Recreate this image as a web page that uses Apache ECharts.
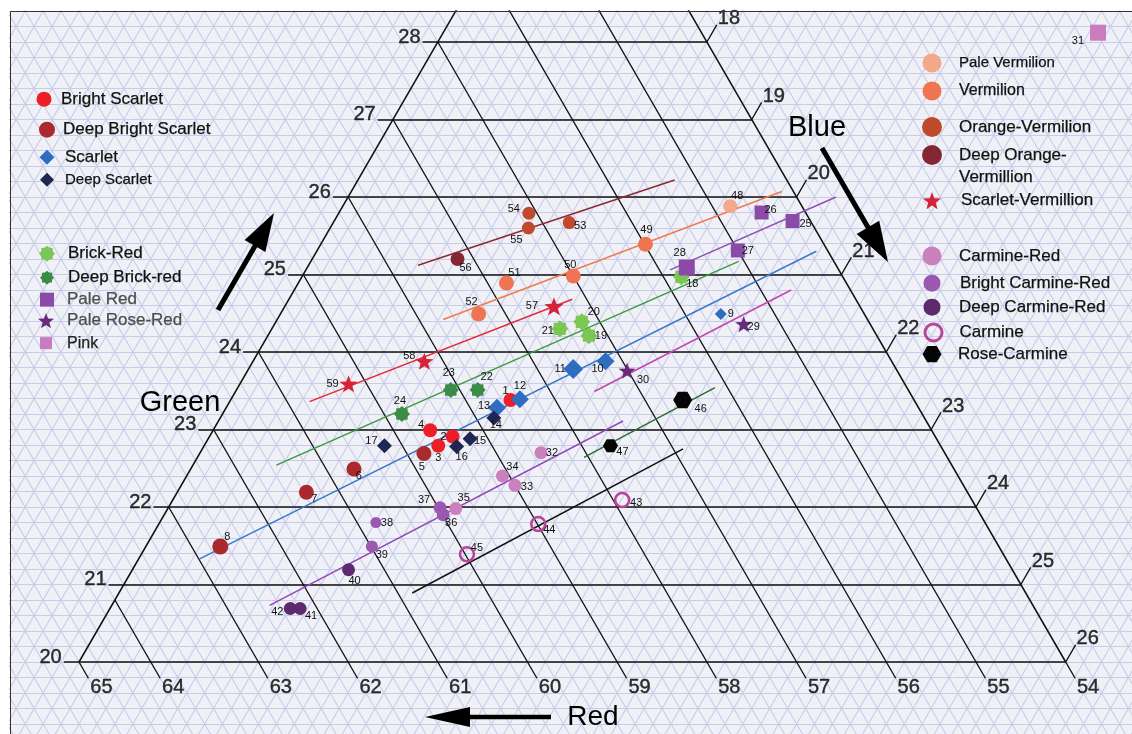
<!DOCTYPE html>
<html><head><meta charset="utf-8">
<script src="https://cdn.jsdelivr.net/npm/echarts@6/dist/echarts.min.js"></script>
<style>html,body{margin:0;padding:0;background:#fff}#c{width:1132px;height:734px}</style>
</head><body><div id="c"></div>
<script>
// ================= DATA (ternary percentages: Red, Green; Blue = 100 - R - G) =================
const greenTicks = [20, 21, 22, 23, 24, 25, 26, 27, 28];
const redTicks = [65, 64, 63, 62, 61, 60, 59, 58, 57, 56, 55, 54];
const blueTicks = [26, 25, 24, 23, 22, 21, 20, 19, 18];   // along right edge (Red = 54)
const redDrift = {64: 0.2};                                  // the 64 line is drawn slightly off in the original

// [id, Red, Green]
const brightScarlet        = [[1, 58.50, 23.38], [2, 59.38, 22.91], [3, 59.60, 22.79], [4, 59.59, 22.99]];
const deepBrightScarlet    = [[5, 59.81, 22.69], [6, 60.69, 22.49], [7, 61.37, 22.19], [8, 62.68, 21.49]];
const scarlet              = [[9, 55.60, 24.49], [10, 57.19, 23.88], [11, 57.60, 23.78], [12, 58.39, 23.39], [13, 58.70, 23.28]];
const deepScarlet          = [[14, 58.80, 23.15], [15, 59.20, 22.88], [16, 59.40, 22.78], [17, 60.20, 22.79]];
const brickRed             = [[18, 55.80, 24.97], [19, 57.21, 24.21], [20, 57.20, 24.39], [21, 57.49, 24.30]];
const deepBrickRed         = [[22, 58.80, 23.51], [23, 59.10, 23.51], [24, 59.80, 23.20]];
const paleRed              = [[25, 54.20, 25.69], [26, 54.49, 25.80], [27, 55.00, 25.31], [28, 55.68, 25.09]];
const paleRoseRed          = [[29, 55.41, 24.36], [30, 57.01, 23.76]];
const pink                 = [[31, 49.58, 28.12]];
const carmineRed           = [[32, 58.50, 22.70], [33, 59.00, 22.28], [34, 59.08, 22.40], [35, 59.81, 21.98]];
const brightCarmineRed     = [[36, 59.99, 21.90], [37, 59.98, 21.99], [38, 60.79, 21.80], [39, 60.99, 21.49]];
const deepCarmineRed       = [[40, 61.40, 21.19], [41, 62.19, 20.69], [42, 62.30, 20.69]];
const carmine              = [[43, 57.90, 22.09], [44, 58.99, 21.78], [45, 59.98, 21.39]];
const roseCarmine          = [[46, 56.58, 23.38], [47, 57.68, 22.79]];
const paleVermilion        = [[48, 54.80, 25.88]];
const vermilion            = [[49, 55.99, 25.39], [50, 57.00, 24.98], [51, 57.79, 24.89], [52, 58.30, 24.49]];
const orangeVermilion      = [[53, 56.70, 25.67], [54, 57.09, 25.79], [55, 57.19, 25.60]];
const deepOrangeVermillion = [[56, 58.18, 25.20]];
const scarletVermillion    = [[57, 57.41, 24.59], [58, 59.21, 23.88], [59, 60.20, 23.59]];

// trend lines: [group, [Red, Green] start, [Red, Green] end]
const trendLines = [
  ['Deep Orange-Vermillion', [58.66, 25.12], [55.25, 26.22]],
  ['Vermilion',              [58.73, 24.42], [54.13, 26.07]],
  ['Scarlet-Vermillion',     [60.75, 23.36], [57.16, 24.68]],
  ['Brick-Red',              [61.53, 22.54], [55.06, 25.17]],
  ['Pale Red',               [55.88, 25.06], [53.56, 26.00]],
  ['Scarlet',                [62.99, 21.33], [54.13, 25.30]],
  ['Pale Rose-Red',          [57.51, 23.49], [54.66, 24.80]],
  ['Carmine-Red',            [62.51, 20.73], [57.38, 23.11]],
  ['Rose-Carmine',           [58.05, 22.64], [56.14, 23.54]],
  ['Carmine',                [60.84, 20.89], [56.89, 22.75]]
];

// ================= STYLE =================
const FONT = '"Liberation Sans", Arial, Helvetica, sans-serif';
function polyPath(points, inner, startDeg) {
  const total = inner === 1 ? points : points * 2;
  let d = '';
  for (let i = 0; i < total; i++) {
    const a = (startDeg + i * 360 / total) * Math.PI / 180;
    const r = (inner === 1 || i % 2 === 0) ? 1 : inner;
    d += (i === 0 ? 'M' : 'L') + (r * Math.cos(a) * 100).toFixed(2) + ' ' + (r * Math.sin(a) * 100).toFixed(2) + ' ';
  }
  return 'path://' + d + 'Z';
}
const STAR = polyPath(5, 0.42, -90);
const SEAL = polyPath(8, 0.78, -90);
const HEX = polyPath(6, 1, 0);

const groups = [
  {name: 'Bright Scarlet', data: brightScarlet, symbol: 'circle', size: 14, color: '#ec1f28', leg: [44, 98, 15, 61, 17, '#111']},
  {name: 'Deep Bright Scarlet', data: deepBrightScarlet, symbol: 'circle', size: 15, color: '#a9292d', leg: [47, 129, 16, 63, 17, '#111']},
  {name: 'Scarlet', data: scarlet, symbol: 'diamond', size: 18, color: '#2f6dc1', leg: [47, 156, 15, 65, 17, '#111']},
  {name: 'Deep Scarlet', data: deepScarlet, symbol: 'diamond', size: 15, color: '#1e2752', leg: [47, 179, 14, 65, 15, '#111']},
  {name: 'Brick-Red', data: brickRed, symbol: SEAL, size: 17, color: '#7bc655', leg: [47, 253, 16, 68, 17, '#111']},
  {name: 'Deep Brick-red', data: deepBrickRed, symbol: SEAL, size: 16, color: '#3a8c46', leg: [47, 276, 14, 68, 17, '#111']},
  {name: 'Pale Red', data: paleRed, symbol: 'rect', size: 14, color: '#8a4ba8', leg: [47, 298, 14, 67, 17, '#4d4d4d']},
  {name: 'Pale Rose-Red', data: paleRoseRed, symbol: STAR, size: 17, color: '#6a2a7a', leg: [46, 320, 16, 67, 17, '#4d4d4d']},
  {name: 'Pink', data: pink, symbol: 'rect', size: 16, color: '#c97cc0', leg: [46, 341, 12, 67, 16, '#222']},
  {name: 'Pale Vermilion', data: paleVermilion, symbol: 'circle', size: 14, color: '#f3a889', leg: [932, 63, 19, 959, 15, '#111']},
  {name: 'Vermilion', data: vermilion, symbol: 'circle', size: 15, color: '#ef7552', leg: [932, 91, 19, 959, 16, '#111']},
  {name: 'Orange-Vermilion', data: orangeVermilion, symbol: 'circle', size: 13, color: '#c0492c', leg: [932, 127, 20, 959, 17, '#111']},
  {name: 'Deep Orange-Vermillion', data: deepOrangeVermillion, symbol: 'circle', size: 14, color: '#842732', leg: [932, 155, 20, 959, 17, '#111'], firstLine: 'Deep Orange-', secondLine: 'Vermillion'},
  {name: 'Scarlet-Vermillion', data: scarletVermillion, symbol: STAR, size: 18, color: '#d7233a', leg: [932, 201, 18, 961, 17, '#111']},
  {name: 'Carmine-Red', data: carmineRed, symbol: 'circle', size: 13, color: '#ca80bd', leg: [932, 256, 19, 959, 17, '#111']},
  {name: 'Bright Carmine-Red', data: brightCarmineRed, symbol: 'circle', size: 13, color: '#9a58b1', leg: [932, 283, 17, 960, 17, '#111']},
  {name: 'Deep Carmine-Red', data: deepCarmineRed, symbol: 'circle', size: 13, color: '#5c2a6d', leg: [932, 307, 17, 959, 17, '#111']},
  {name: 'Carmine', data: carmine, symbol: 'circle', size: 14, color: '#b8449e', ring: true, leg: [932, 331, 17, 958, 17, '#111']},
  {name: 'Rose-Carmine', data: roseCarmine, symbol: HEX, size: 17, color: '#050505', leg: [932, 355, 19, 958, 17, '#111']}
];
const sizeOverride = {8: 16, 9: 12, 11: 20, 28: 16, 38: 11, 39: 12, 46: 19, 47: 15, 57: 19};
const labelOffset = {1:[-5,-9],2:[-9,0],3:[0,12],4:[-9,-5],5:[-2,13],6:[5,7],7:[8,7],8:[7,-10],9:[10,0],10:[-8,8],
  11:[-13,0],12:[0,-13],13:[-13,-2],14:[2,7],15:[10,2],16:[5,10],17:[-13,-5],18:[11,7],19:[12,0],20:[12,-10],
  21:[-12,2],22:[9,-13],23:[-2,-17],24:[-2,-13],25:[13,3],26:[9,-3],27:[10,0],28:[-7,-15],29:[10,3],30:[16,9],
  31:[-20,8],32:[11,0],33:[12,2],34:[10,-9],35:[8,-11],36:[8,8],37:[-16,-8],38:[11,0],39:[10,8],40:[6,11],
  41:[11,7],42:[-13,3],43:[14,3],44:[11,6],45:[10,-6],46:[18,9],47:[12,6],48:[7,-10],49:[1,-14],50:[-3,-11],
  51:[8,-10],52:[-7,-12],53:[11,3],54:[-15,-4],55:[-12,12],56:[8,9],57:[-22,0],58:[-15,-5],59:[-16,0]};
const trendColors = {
  'Deep Orange-Vermillion': '#8b2a35', 'Vermilion': '#f07a4f', 'Scarlet-Vermillion': '#e22a38',
  'Brick-Red': '#3d9a3f', 'Pale Red': '#8e50b6', 'Scarlet': '#3a78c8', 'Pale Rose-Red': '#c445ad',
  'Carmine-Red': '#9149b8', 'Rose-Carmine': '#2c6b36', 'Carmine': '#111111'
};

// ================= GEOMETRY: skewed cartesian (u, Green) =================
function toUG(R, G) { return [75 - G / 2 - R, G]; }

// background triangular lattice (0.2 % steps)
const lattice = [];
for (let k = 93; k <= 144; k++) { const g = k / 5; lattice.push({coords: [[-2, g], [14, g]]}); }
for (let k = 235; k <= 345; k++) { const r = k / 5; lattice.push({coords: [toUG(r, 18.5), toUG(r, 29)]}); }
for (let k = 35; k <= 155; k++) { const b = k / 5; lattice.push({coords: [[b - 15 - 0.75, 18.5], [b - 15 + 4.5, 29]]}); }

// main frame lines
const frame = [];
greenTicks.forEach(g => frame.push({coords: [[(g - 20) / 2 - 0.17, g], [21 - g / 2, g]], lineStyle: {width: 1.7}}));
frame.push({coords: [[0, 20], [5.5, 31]], lineStyle: {width: 1.5}});           // Blue = 15 edge
frame.push({coords: [toUG(54, 20), toUG(54, 31)], lineStyle: {width: 1.5}});  // Red = 54 edge
redTicks.forEach(R => {
  const rr = R + (redDrift[R] || 0);
  if (R > 54 && R < 65) frame.push({coords: [toUG(rr, 20), toUG(rr, 85 - rr)], lineStyle: {width: 1.3}});
  frame.push({coords: [toUG(rr, 20), toUG(rr, 19.79)], lineStyle: {width: 1.3}});
});
blueTicks.forEach(B => {
  const G = 46 - B, p = toUG(54, G);
  frame.push({coords: [p, [p[0] + 0.11, G + 0.22]], lineStyle: {width: 1.3}});
});

const series = [];
series.push({type: 'lines', coordinateSystem: 'cartesian2d', silent: true, clip: true, z: 1,
  lineStyle: {color: '#c9cce8', width: 1.1, opacity: 1}, data: lattice});
series.push({type: 'lines', coordinateSystem: 'cartesian2d', silent: true, clip: true, z: 2,
  lineStyle: {color: '#111', width: 1.4, opacity: 1}, data: frame});
series.push({type: 'lines', coordinateSystem: 'cartesian2d', silent: true, clip: true, z: 3,
  data: trendLines.map(t => ({coords: [toUG(t[1][0], t[1][1]), toUG(t[2][0], t[2][1])],
    lineStyle: {color: trendColors[t[0]], width: 1.5, opacity: 1}}))});

groups.forEach(gr => {
  series.push({
    type: 'scatter', name: gr.name, z: 5, symbol: gr.symbol, symbolSize: gr.size, symbolKeepAspect: true,
    itemStyle: gr.ring ? {color: 'rgba(0,0,0,0)', borderColor: gr.color, borderWidth: 2.6, opacity: 1}
                       : {color: gr.color, opacity: 1},
    label: {show: true, position: 'inside', fontSize: 11, fontFamily: FONT, color: '#111',
      formatter: p => String(p.value[2])},
    emphasis: {disabled: true},
    data: gr.data.map(d => {
      const ug = toUG(d[1], d[2]);
      const o = {value: [ug[0], ug[1], d[0]], label: {offset: labelOffset[d[0]] || [10, 0]}};
      if (sizeOverride[d[0]]) o.symbolSize = sizeOverride[d[0]];
      return o;
    })
  });
});

// axis tick labels
const tickLabelBase = {type: 'scatter', silent: true, z: 6, symbolSize: 0.1, itemStyle: {color: 'rgba(0,0,0,0)'}};
const tickFont = {fontSize: 20, fontFamily: FONT, color: '#000', textBorderColor: '#000', textBorderWidth: 0.4};
series.push(Object.assign({}, tickLabelBase, {
  label: Object.assign({show: true, position: 'left', distance: 2, offset: [0, -5], formatter: p => String(p.value[2])}, tickFont),
  data: greenTicks.map(g => [(g - 20) / 2 - 0.17, g, g])}));
series.push(Object.assign({}, tickLabelBase, {
  label: Object.assign({show: true, position: 'inside', offset: [13, 9], formatter: p => String(p.value[2])}, tickFont),
  data: redTicks.map(R => { const p = toUG(R + (redDrift[R] || 0), 19.79); return [p[0], p[1], R]; })}));
series.push(Object.assign({}, tickLabelBase, {
  label: Object.assign({show: true, position: 'right', distance: 1, offset: [0, -6], formatter: p => String(p.value[2])}, tickFont),
  data: blueTicks.map(B => { const G = 46 - B, p = toUG(54, G); return [p[0] + 0.11, G + 0.22, B]; })}));

// legends (one per entry, positioned like the original)
const extraText = [];
const legends = groups.map(gr => {
  const [cx, cy, s, tx, fs, col] = gr.leg;
  const left = cx - s / 2, top = cy - s / 2;
  const pad = tx - (left + s + 5);
  const lg = {data: [gr.name], left: left, top: top, itemWidth: s, itemHeight: s, padding: 0,
    selectedMode: false, textStyle: {fontSize: fs, fontFamily: FONT, color: col, padding: [0, 0, 0, pad],
      textBorderColor: col, textBorderWidth: 0.25}};
  if (gr.firstLine) {
    lg.formatter = () => gr.firstLine;
    extraText.push({type: 'text', z: 100, silent: true, style: {text: gr.secondLine, x: tx, y: cy + 22, fontSize: fs,
      fontFamily: FONT, fill: col, stroke: col, lineWidth: 0.25, align: 'left', verticalAlign: 'middle'}});
  }
  if (gr.ring) lg.itemStyle = {borderWidth: 3};
  return lg;
});

function arrow(x1, y1, x2, y2, headLen, headHalf, w) {
  const dx = x2 - x1, dy = y2 - y1, L = Math.hypot(dx, dy), ux = dx / L, uy = dy / L;
  const bx = x2 - ux * headLen, by = y2 - uy * headLen;
  return [
    {type: 'line', z: 100, silent: true, shape: {x1: x1, y1: y1, x2: bx + ux * 2, y2: by + uy * 2}, style: {stroke: '#000', lineWidth: w}},
    {type: 'polygon', z: 100, silent: true, shape: {points: [[x2, y2], [bx - uy * headHalf, by + ux * headHalf], [bx + uy * headHalf, by - ux * headHalf]]},
      style: {fill: '#000'}}
  ];
}

const chart = echarts.init(document.getElementById('c'), null, {renderer: 'canvas'});
chart.setOption({
  animation: false,
  backgroundColor: '#ffffff',
  grid: {left: 10, top: 11, right: 0, bottom: 0, containLabel: false},
  xAxis: {type: 'value', min: -0.76923, max: 11.73913, show: false},
  yAxis: {type: 'value', min: 19.07097, max: 28.4, show: false},
  legend: legends,
  graphic: [
    {type: 'rect', z: -10, silent: true, shape: {x: 10.5, y: 11.5, width: 1200, height: 800},
      style: {fill: '#f0f1f7', stroke: null}},
    {type: 'rect', z: 90, silent: true, shape: {x: 10.5, y: 11.5, width: 1200, height: 800},
      style: {fill: null, stroke: '#333', lineWidth: 1}},
    ...arrow(218, 310, 274, 213, 38, 12, 5),
    ...arrow(822, 148, 888, 262, 40, 13, 5),
    ...arrow(551, 717, 425, 717, 45, 10, 4.5),
    {type: 'text', z: 100, silent: true, style: {text: 'Blue', x: 817, y: 128, fontSize: 29, fontFamily: FONT, fill: '#000', align: 'center', verticalAlign: 'middle'}},
    {type: 'text', z: 100, silent: true, style: {text: 'Green', x: 180, y: 403, fontSize: 29, fontFamily: FONT, fill: '#000', align: 'center', verticalAlign: 'middle'}},
    {type: 'text', z: 100, silent: true, style: {text: 'Red', x: 593, y: 717, fontSize: 28, fontFamily: FONT, fill: '#000', align: 'center', verticalAlign: 'middle'}},
    ...extraText
  ],
  series: series
});
</script></body></html>
